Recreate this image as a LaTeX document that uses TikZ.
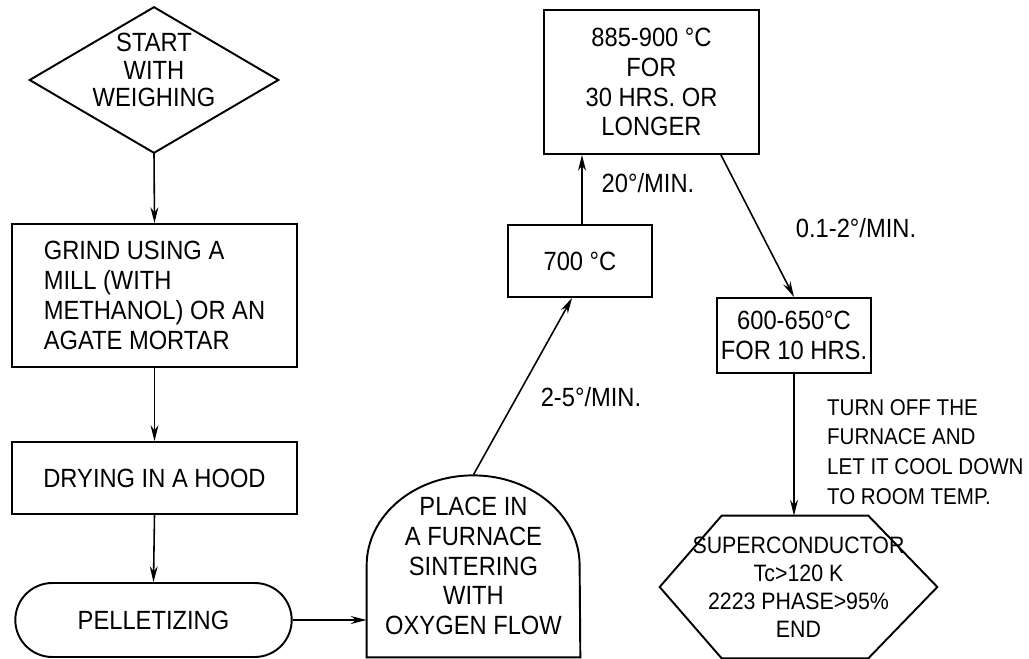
\documentclass[tikz,border=0pt]{standalone}
\usepackage{fontspec}
\setmainfont{Liberation Sans}[FakeStretch=0.9]
\usetikzlibrary{arrows.meta,positioning,shapes.geometric,shapes.misc,calc}

\begin{document}
\begin{tikzpicture}[
    x=0.02cm, y=-0.02cm,
    every node/.style={font=\fontsize{15pt}{17pt}\selectfont},
    stepbox/.style={rectangle, draw, line width=1.1pt, inner sep=3pt, align=center},
    pelletbox/.style={rounded rectangle, draw, line width=1.1pt, inner sep=3pt},
    freebox/.style={rectangle, draw=none, inner sep=0pt, align=center},
    outline/.style={line width=1.1pt},
    ratelabel/.style={inner sep=1pt, align=left},
    flow/.style={->, line width=0.9pt},
    >={Stealth[length=9pt,width=4.5pt]}
  ]
    \useasboundingbox (0,0) rectangle (1029,659);

    % left column
    \node[freebox, minimum width=4.96cm, minimum height=2.9cm, text depth=0.4cm,
          font=\fontsize{15pt}{15.5pt}\selectfont] (start) at (154,80)
      {START\\WITH\\WEIGHING};
    \draw[outline] (start.north) -- (start.east) -- (start.south) -- (start.west) -- cycle;
    \node[stepbox, align=left, minimum width=5.7cm, minimum height=2.86cm] (grind) at (154.5,295.5)
      {GRIND USING A\\MILL (WITH\\METHANOL) OR AN\\AGATE MORTAR};
    \node[stepbox, minimum width=5.7cm, minimum height=1.44cm] (dry) at (154.5,478)
      {DRYING IN A HOOD};
    \node[pelletbox, minimum width=5.74cm, minimum height=1.48cm] (pellet) at (153.5,620)
      {PELLETIZING};

    % furnace (dome shape drawn round the node)
    \node[freebox, minimum width=4.26cm, minimum height=3.64cm] (furnace) at (473.5,566)
      {PLACE IN\\A FURNACE\\SINTERING\\WITH\\OXYGEN FLOW};
    \draw[outline] (furnace.south west) -- ++(0cm,1.84cm)
      arc[start angle=180, end angle=0, x radius=2.13cm, y radius=1.8cm]
      -- (furnace.south east) -- cycle;

    % temperature steps
    \node[stepbox, minimum width=2.88cm, minimum height=1.44cm] (t700) at (580,261)
      {700 °C};
    \node[stepbox, minimum width=4.3cm, minimum height=2.88cm] (t885) at (651.5,82)
      {885-900 °C\\FOR\\30 HRS. OR\\LONGER};
    \node[stepbox, minimum width=2.84cm, minimum height=1.5cm, inner sep=2pt] (t600) at (794,335.5)
      {600-650°C\\FOR 10 HRS.};

    % end (hexagon drawn round the node)
    \node[freebox, minimum width=5.54cm, minimum height=2.84cm,
          font=\fontsize{13.5pt}{16pt}\selectfont] (sc) at (798.5,587)
      {SUPERCONDUCTOR\\Tc>120 K\\2223 PHASE>95\%\\END};
    \draw[outline] (sc.west) -- ([xshift=1.24cm]sc.north west)
      -- ([xshift=-1.38cm]sc.north east) -- (sc.east)
      -- ([xshift=-1.38cm]sc.south east) -- ([xshift=1.24cm]sc.south west) -- cycle;

    \draw[flow] (start.south) -- (grind.north);
    \draw[flow] (grind.south) -- (dry.north);
    \draw[flow] (dry.south) -- (pellet.north);
    \draw[flow] (pellet.east) -- (furnace.west |- pellet.east);
    \draw[flow] (furnace.north) -- ([xshift=1.3cm]t700.south west);
    \draw[flow] ([xshift=0.04cm]t700.north) -- ([xshift=0.04cm]t700.north |- t885.south);
    \draw[flow] ([xshift=-0.78cm]t885.south east) -- (t600.north);
    \draw[flow] (t600.south) -- (t600.south |- sc.north);

    % rate labels
    \node[ratelabel] (r25) at (591,397) {2-5°/MIN.};
    \node[ratelabel] (r20) at (648,183) {20°/MIN.};
    \node[ratelabel] (r01) at (856,228) {0.1-2°/MIN.};
    \node[ratelabel, anchor=west, font=\fontsize{13pt}{17pt}\selectfont] (rcool) at (825,452)
      {TURN OFF THE\\FURNACE AND\\LET IT COOL DOWN\\TO ROOM TEMP.};
\end{tikzpicture}
\end{document}
